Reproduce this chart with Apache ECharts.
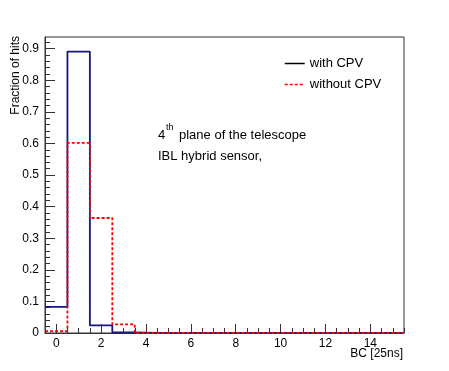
<!DOCTYPE html>
<html>
<head>
<meta charset="utf-8">
<script src="https://cdn.jsdelivr.net/npm/echarts@6/dist/echarts.min.js"></script>
<style>
	html, body { margin: 0; padding: 0; background: #fff; }
	#chart { width: 449px; height: 371px; }
</style>
</head>
<body>
<div id="chart"></div>
<script>
// bin centres (BC, 25 ns units) and fraction of hits per bin
const bins = [0, 1, 2, 3, 4, 5, 6, 7, 8, 9, 10, 11, 12, 13, 14, 15]
const withCPV = [0.083, 0.891, 0.024, 0.002, 0, 0, 0, 0, 0, 0, 0, 0, 0, 0, 0, 0]
const withoutCPV = [0.006, 0.602, 0.364, 0.027, 0, 0, 0, 0, 0, 0, 0, 0, 0, 0, 0, 0]
const xTicks = [0, 2, 4, 6, 8, 10, 12, 14]
const yTicks = [0, 0.1, 0.2, 0.3, 0.4, 0.5, 0.6, 0.7, 0.8, 0.9]

const font = 'Liberation Sans, Arial, sans-serif'
const frameColor = '#333'

// histogram outline: each bin gives a flat step from low edge to high edge
function steps(vals) {
	let pts = []
	bins.forEach((b, i) => {
		pts.push([b - 0.5, vals[i]])
		pts.push([b + 0.5, vals[i]])
	})
	return pts
}

let xMinor = []
for (let v = -0.5; v <= 15.5; v += 0.5) xMinor.push(v)
let yMinor = []
for (let v = 0; v <= 0.936; v += 0.02) yMinor.push(+v.toFixed(2))

let myChart = echarts.init(document.getElementById('chart'))
let option = {
	backgroundColor: '#fff',
	animation: false,
	grid: {
		left: 45,
		right: 45,
		top: 37,
		bottom: 38,
		show: true,
		borderColor: frameColor,
		borderWidth: 1
	},
	legend: {
		orient: 'vertical',
		left: 279,
		top: 52,
		itemWidth: 20,
		itemHeight: 14,
		itemGap: 8,
		// hide the symbol dot, keep only the line
		itemStyle: { color: 'transparent', borderColor: 'transparent', borderWidth: 0 },
		textStyle: { fontFamily: font, fontSize: 13, color: '#000' },
		data: [
			{ name: 'with CPV', lineStyle: { color: '#000', width: 1.5 } },
			{ name: 'without CPV', lineStyle: { color: '#ff0000', width: 1.5, type: [3, 2] } }
		]
	},
	xAxis: [
		{
			type: 'value',
			min: -0.5,
			max: 15.5,
			axisLine: { show: true, onZero: false, lineStyle: { color: frameColor } },
			axisTick: { inside: true, length: 9, customValues: xTicks, lineStyle: { color: frameColor } },
			axisLabel: { customValues: xTicks, margin: 5, fontFamily: font, fontSize: 12, color: '#000' },
			splitLine: { show: false }
		},
		{
			type: 'value',
			position: 'bottom',
			min: -0.5,
			max: 15.5,
			axisLine: { show: false, onZero: false },
			axisTick: { inside: true, length: 5, customValues: xMinor, lineStyle: { color: frameColor } },
			axisLabel: { show: false },
			splitLine: { show: false }
		}
	],
	yAxis: [
		{
			type: 'value',
			min: 0,
			max: 0.937,
			axisLine: { show: true, onZero: false, lineStyle: { color: frameColor } },
			axisTick: { inside: true, length: 10, customValues: yTicks, lineStyle: { color: frameColor } },
			axisLabel: { customValues: yTicks, margin: 6, fontFamily: font, fontSize: 12, color: '#000' },
			splitLine: { show: false }
		},
		{
			type: 'value',
			position: 'left',
			min: 0,
			max: 0.937,
			axisLine: { show: false, onZero: false },
			axisTick: { inside: true, length: 5, customValues: yMinor, lineStyle: { color: frameColor } },
			axisLabel: { show: false },
			splitLine: { show: false }
		}
	],
	series: [
		{
			name: 'with CPV',
			type: 'line',
			symbol: 'none',
			lineStyle: { color: '#16167f', width: 1.8 },
			itemStyle: { color: '#16167f' },
			data: steps(withCPV)
		},
		{
			name: 'without CPV',
			type: 'line',
			symbol: 'none',
			lineStyle: { color: '#ff0000', width: 1.8, type: [3, 2] },
			itemStyle: { color: '#ff0000' },
			data: steps(withoutCPV)
		}
	],
	graphic: [
		{
			type: 'text',
			x: 15.5,
			y: 36,
			rotation: Math.PI / 2,
			style: { text: 'Fraction of hits', font: '12px ' + font, fill: '#000', align: 'right', verticalAlign: 'middle' }
		},
		{
			type: 'text',
			x: 403,
			y: 354,
			style: { text: 'BC [25ns]', font: '12px ' + font, fill: '#000', align: 'right', verticalAlign: 'middle' }
		},
		{
			type: 'text',
			x: 158,
			y: 135,
			style: { text: '4', font: '13px ' + font, fill: '#000', verticalAlign: 'middle' }
		},
		{
			type: 'text',
			x: 166,
			y: 123,
			style: { text: 'th', font: '9px ' + font, fill: '#000', verticalAlign: 'top' }
		},
		{
			type: 'text',
			x: 179,
			y: 135,
			style: { text: 'plane of the telescope', font: '13px ' + font, fill: '#000', verticalAlign: 'middle' }
		},
		{
			type: 'text',
			x: 158,
			y: 156,
			style: { text: 'IBL hybrid sensor,', font: '13px ' + font, fill: '#000', verticalAlign: 'middle' }
		}
	]
}
myChart.setOption(option)
</script>
</body>
</html>
